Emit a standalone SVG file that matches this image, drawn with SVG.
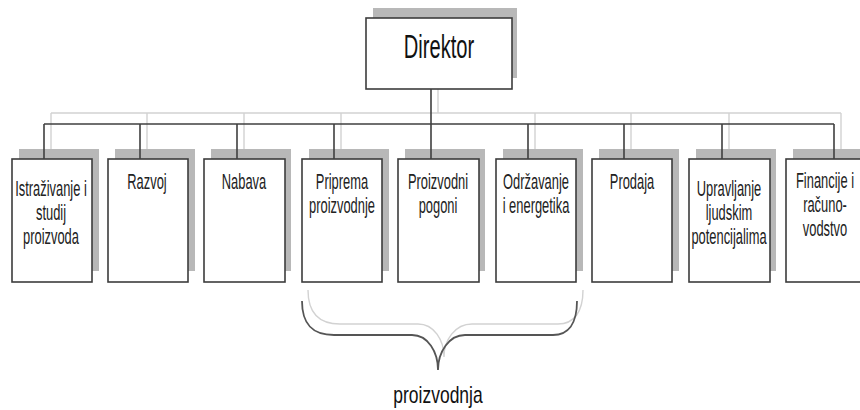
<svg xmlns="http://www.w3.org/2000/svg" width="860" height="410" viewBox="0 0 860 410">
<style>
.shadow{fill:#b8b8b8;stroke:none}
.box{fill:#ffffff;stroke:#3c3c3c;stroke-width:1.6}
.ln{fill:none;stroke:#404040;stroke-width:1.6}
.lnl{fill:none;stroke:#d2d2d2;stroke-width:1.4}
.t{font-family:"Liberation Sans",Arial,sans-serif;font-size:21.5px;fill:#222;text-anchor:middle}
.td{font-family:"Liberation Sans",Arial,sans-serif;font-size:33px;fill:#111;text-anchor:middle}
</style>
<rect width="860" height="410" fill="#ffffff"/>
<g id="connectors-shadow">
<path class="lnl" d="M438,78 V113 M51,113 H841 M51,113 V149 M147,113 V149 M244,113 V149 M341,113 V149 M535,113 V149 M631,113 V149 M729,113 V149 M841,113 V149"/>
<path class="lnl" d="M308,290 C308,312 318,324 340,324 L418,324 C434,324 444,340 444,357 C444,340 455,324 472,324 L558,324 C574,324 583,312 583,290"/>
</g>
<g id="n0"><rect class="shadow" x="373" y="8" width="144" height="70"/><rect class="box" x="366" y="18" width="146" height="71"/><text class="td" transform="translate(439,58) scale(0.61,1)">Direktor</text></g>
<g id="n1"><rect class="shadow" x="19" y="149" width="80" height="122"/><rect class="box" x="12" y="159" width="80" height="123"/>
<text class="t" transform="translate(51,196) scale(0.6,1)">Istraživanje i</text>
<text class="t" transform="translate(51,220) scale(0.6,1)">studij</text>
<text class="t" transform="translate(51,244) scale(0.6,1)">proizvoda</text></g>
<g id="n2"><rect class="shadow" x="115" y="149" width="80" height="122"/><rect class="box" x="108" y="159" width="80" height="123"/>
<text class="t" transform="translate(147,189) scale(0.6,1)">Razvoj</text></g>
<g id="n3"><rect class="shadow" x="211" y="149" width="80" height="122"/><rect class="box" x="204" y="159" width="81" height="123"/>
<text class="t" transform="translate(244,189) scale(0.6,1)">Nabava</text></g>
<g id="n4"><rect class="shadow" x="309" y="149" width="80" height="122"/><rect class="box" x="302" y="159" width="80" height="123"/>
<text class="t" transform="translate(342,189) scale(0.6,1)">Priprema</text>
<text class="t" transform="translate(342,213) scale(0.6,1)">proizvodnje</text></g>
<g id="n5"><rect class="shadow" x="405" y="149" width="80" height="122"/><rect class="box" x="398" y="159" width="81" height="123"/>
<text class="t" transform="translate(438,189) scale(0.6,1)">Proizvodni</text>
<text class="t" transform="translate(438,213) scale(0.6,1)">pogoni</text></g>
<g id="n6"><rect class="shadow" x="503" y="149" width="80" height="122"/><rect class="box" x="496" y="159" width="80" height="123"/>
<text class="t" transform="translate(536,189) scale(0.6,1)">Održavanje</text>
<text class="t" transform="translate(536,213) scale(0.6,1)">i energetika</text></g>
<g id="n7"><rect class="shadow" x="599" y="149" width="80" height="122"/><rect class="box" x="592" y="159" width="80" height="123"/>
<text class="t" transform="translate(632,189) scale(0.6,1)">Prodaja</text></g>
<g id="n8"><rect class="shadow" x="696" y="149" width="80" height="122"/><rect class="box" x="689" y="159" width="81" height="123"/>
<text class="t" transform="translate(729,196) scale(0.6,1)">Upravljanje</text>
<text class="t" transform="translate(729,220) scale(0.6,1)">ljudskim</text>
<text class="t" transform="translate(729,244) scale(0.6,1)">potencijalima</text></g>
<g id="n9"><rect class="shadow" x="793" y="149" width="80" height="122"/><rect class="box" x="786" y="159" width="80" height="123"/>
<text class="t" transform="translate(825,188) scale(0.6,1)">Financije i</text>
<text class="t" transform="translate(825,212) scale(0.6,1)">računo-</text>
<text class="t" transform="translate(825,236) scale(0.6,1)">vodstvo</text></g>
<g id="connectors">
<path class="ln" d="M431,89 V124 M44,124 H834 M44,124 V159 M140,124 V159 M237,124 V159 M334,124 V159 M431,124 V159 M528,124 V159 M624,124 V159 M722,124 V159 M834,124 V159"/>
</g>
<g id="brace">
<path class="ln" style="stroke:#555;stroke-width:1.8" d="M302,301 C302,324 312,335 334,335 L412,335 C428,335 438,352 438,370 C438,352 449,335 465,335 L553,335 C568,335 577,324 577,301"/>
<text class="t" transform="translate(438,403) scale(0.76,1)" style="font-size:23px;fill:#111">proizvodnja</text>
</g>
</svg>
